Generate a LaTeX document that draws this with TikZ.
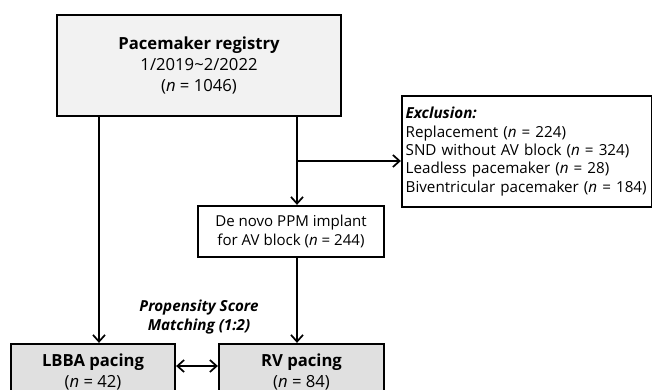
\documentclass[tikz,border=0pt]{standalone}
\usepackage{fontspec}
\setmainfont{Open Sans}
\usetikzlibrary{arrows.meta}
\tikzset{
  box/.style={draw=black, line width=1.7pt, inner sep=0pt, align=center},
  arr/.style={line width=1.6pt, -{Straight Barb[length=5pt,width=9pt,line width=1.3pt]}},
  darr/.style={line width=1.6pt, {Straight Barb[length=5pt,width=9pt,line width=1.3pt]}-{Straight Barb[length=5pt,width=9pt,line width=1.3pt]}},
}
\begin{document}
\begin{tikzpicture}[x=0.75pt,y=-0.75pt]
\useasboundingbox[fill=white] (0,0) rectangle (652,389);
\node[box, fill=black!5, minimum width=213pt, minimum height=75.75pt, font=\fontsize{12.5}{15.75}\selectfont]
  (top) at (199,65.5) {\textbf{Pacemaker registry}\\1/2019\textasciitilde2/2022\\(\textit{n} = 1046)};
\node[box, minimum width=187.5pt, minimum height=83.25pt, align=left, text width=182pt, font=\fontsize{11.4}{13.75}\selectfont]
  (ex) at (527,151.5) {\textbf{\textit{Exclusion:}}\\Replacement (\textit{n} = 224)\\SND without AV block (\textit{n} = 324)\\Leadless pacemaker (\textit{n} = 28)\\Biventricular pacemaker (\textit{n} = 184)};
\node[box, minimum width=139.5pt, minimum height=38.25pt, font=\fontsize{11.3}{14.25}\selectfont]
  (dn) at (291,231.5) {De novo PPM implant\\for AV block (\textit{n} = 244)};
\node[box, fill=black!12, minimum width=123pt, minimum height=42pt, font=\fontsize{12.5}{15.75}\selectfont]
  (lb) at (93,372) {\textbf{LBBA pacing}\\(\textit{n} = 42)};
\node[box, fill=black!12, minimum width=123.75pt, minimum height=42pt, font=\fontsize{12.5}{15.75}\selectfont]
  (rv) at (301.5,372) {\textbf{RV pacing}\\(\textit{n} = 84)};
\node[align=center, inner sep=0pt, font=\fontsize{11.4}{14.25}\selectfont\bfseries\itshape]
  (psm) at (199,317) {Propensity Score\\Matching (1:2)};
\coordinate (br) at (297,161);
\draw[arr] (top.south -| 99,0) -- (lb.north -| 99,0);
\draw[arr] (top.south -| 297,0) -- (dn.north -| 297,0);
\draw[arr] (br) -- (br -| ex.west);
\draw[arr] (dn.south -| 297,0) -- (rv.north -| 297,0);
\draw[darr] (lb.east |- 0,366) -- (rv.west |- 0,366);
\end{tikzpicture}
\end{document}
